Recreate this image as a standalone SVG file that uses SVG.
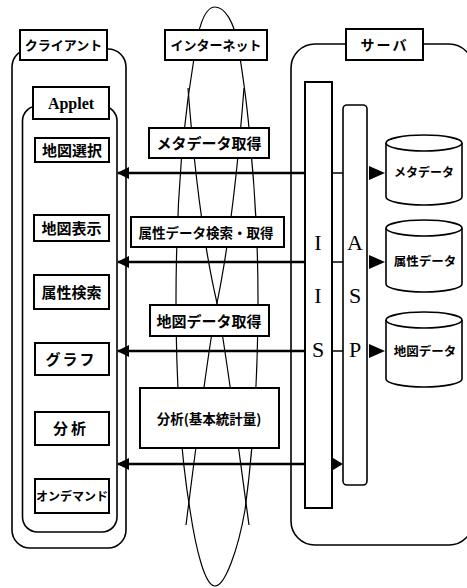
<svg xmlns="http://www.w3.org/2000/svg" width="467" height="588" viewBox="0 0 467 588">
<defs>
<style>
.box{fill:#fff;stroke:#000;stroke-width:2}
.frame{fill:none;stroke:#000;stroke-width:1.6}
.lens{fill:none;stroke:#000;stroke-width:1.2}
.conn{stroke:#000;stroke-width:2.6;fill:none}
.thin{stroke:#000;stroke-width:1.6;fill:none}
.jp{font-family:"Noto Sans CJK JP","Noto Sans",sans-serif;font-weight:bold;fill:#000;text-anchor:middle}
.rm{font-family:"Liberation Serif",serif;font-weight:bold;fill:#000;text-anchor:middle}
.big{font-family:"Liberation Serif",serif;font-size:22px;fill:#000;text-anchor:middle}
.cyl{fill:#fff;stroke:#000;stroke-width:1.6}
</style>
<marker id="ah" viewBox="0 0 12 12" refX="11" refY="6" markerWidth="12" markerHeight="12" orient="auto-start-reverse" markerUnits="userSpaceOnUse">
<path d="M0,0 L12,6 L0,12 Z" fill="#000"/>
</marker>
</defs>
<rect width="467" height="588" fill="#fff"/>

<g id="internet-lens">
<path class="lens" d="M215,7 C206,7 200,22 196,45 C191,75 186,110 182,150 C178,200 176,250 176,300 C176,380 180,450 190,510 C196,550 205,586 215,586 C225,586 238,550 245,510 C253,450 258,380 258,300 C258,250 255,190 250,140 C247,100 242,70 238,45 C234,22 225,7 215,7 Z"/>
<path class="lens" d="M188,88 C192,140 200,230 217,303 C226,350 236,430 249,525"/>
<path class="lens" d="M244,88 C240,140 232,230 217,303 C208,350 198,430 186,525"/>
</g>

<g id="client">
<rect class="frame" x="12" y="49" width="114" height="499" rx="18"/>
<rect class="box" x="20" y="30" width="87" height="30"/>
<text class="jp" x="63.5" y="50" font-size="13">クライアント</text>
</g>

<g id="applet">
<rect class="frame" x="22.5" y="106" width="94.5" height="426" rx="15"/>
<rect class="box" x="33" y="87" width="76" height="32"/>
<text class="rm" x="71" y="109" font-size="16">Applet</text>
</g>

<g id="n-chizu-sentaku"><rect class="box" x="35" y="138" width="74" height="24"/><text class="jp" x="72" y="156" font-size="15">地図選択</text></g>
<g id="n-chizu-hyouji"><rect class="box" x="34" y="215" width="75" height="26"/><text class="jp" x="71.5" y="234" font-size="15">地図表示</text></g>
<g id="n-zokusei-kensaku"><rect class="box" x="34" y="275" width="75" height="34"/><text class="jp" x="71.5" y="298" font-size="15">属性検索</text></g>
<g id="n-graph"><rect class="box" x="35" y="343" width="74" height="32"/><text class="jp" x="71" y="365" font-size="15" letter-spacing="2">グラフ</text></g>
<g id="n-bunseki"><rect class="box" x="35" y="412" width="74" height="33"/><text class="jp" x="71" y="434" font-size="15" letter-spacing="3">分析</text></g>
<g id="n-ondemand"><rect class="box" x="35" y="479" width="74" height="34"/><text class="jp" x="72" y="501" font-size="12">オンデマンド</text></g>

<g id="internet">
<rect class="box" x="165" y="30" width="102" height="30"/>
<text class="jp" x="216" y="50" font-size="13">インターネット</text>
</g>

<g id="m-meta"><rect class="box" x="149" y="128" width="120" height="30"/><text class="jp" x="209" y="149" font-size="15">メタデータ取得</text></g>
<g id="m-zokusei"><rect class="box" x="131" y="217" width="153" height="30"/><text class="jp" x="206" y="238" font-size="13.5">属性データ検索・取得</text></g>
<g id="m-chizu"><rect class="box" x="150" y="305" width="119" height="31"/><text class="jp" x="209" y="327" font-size="15">地図データ取得</text></g>
<g id="m-bunseki"><rect class="box" x="140" y="388" width="139" height="60"/><text class="jp" x="209" y="424" font-size="13.5">分析(基本統計量)</text></g>

<g id="server">
<rect class="frame" x="291" y="44" width="182" height="501" rx="24"/>
<rect class="box" x="346" y="29" width="77" height="31"/>
<text class="jp" x="384.5" y="50" font-size="14" letter-spacing="2">サーバ</text>
</g>

<g id="iis">
<rect class="box" x="305" y="82" width="27" height="426"/>
<text class="big" x="318" y="250">I</text>
<text class="big" x="318" y="303">I</text>
<text class="big" x="318" y="357">S</text>
</g>
<g id="asp">
<rect class="frame" x="343" y="105" width="24" height="380" rx="4" fill="#fff"/>
<text class="big" x="355" y="250">A</text>
<text class="big" x="355" y="303">S</text>
<text class="big" x="355" y="357">P</text>
</g>

<g id="db-meta">
<path class="cyl" d="M386,143 L386,197 A38,8 0 0 0 462,197 L462,143"/>
<ellipse class="cyl" cx="424" cy="143" rx="38" ry="8"/>
<text class="jp" x="424" y="177" font-size="12">メタデータ</text>
</g>
<g id="db-zokusei">
<path class="cyl" d="M386,228 L386,284 A38,8 0 0 0 462,284 L462,228"/>
<ellipse class="cyl" cx="424" cy="228" rx="38" ry="8"/>
<text class="jp" x="425" y="266" font-size="12.5">属性データ</text>
</g>
<g id="db-chizu">
<path class="cyl" d="M386,320 L386,379 A38,8 0 0 0 462,379 L462,320"/>
<ellipse class="cyl" cx="424" cy="320" rx="38" ry="8"/>
<text class="jp" x="425" y="356" font-size="12.5">地図データ</text>
</g>

<g id="connectors">
<path class="conn" d="M305,173 L118,173" marker-end="url(#ah)"/>
<path class="conn" d="M305,262 L118,262" marker-end="url(#ah)"/>
<path class="conn" d="M305,351 L118,351" marker-end="url(#ah)"/>
<path class="conn" d="M305,464 L118,464" marker-end="url(#ah)"/>
<path class="thin" d="M332,173 L343,173 M332,262 L343,262 M332,351 L343,351"/>
<path d="M333,458 L343,464 L333,470 Z" fill="#000"/>
<path d="M369,166 L385,173 L369,180 Z" fill="#000"/>
<path d="M369,255 L385,262 L369,269 Z" fill="#000"/>
<path d="M369,344 L385,351 L369,358 Z" fill="#000"/>
</g>
</svg>
